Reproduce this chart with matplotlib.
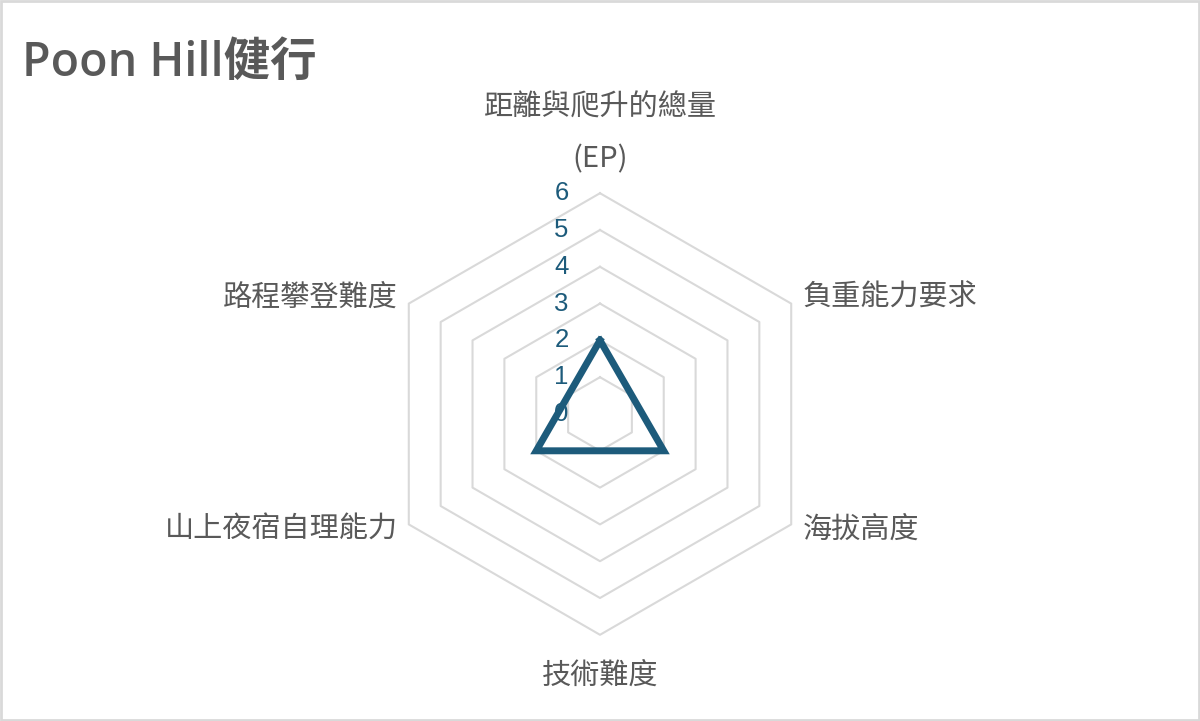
import matplotlib
matplotlib.use("Agg")
import matplotlib.pyplot as plt
from matplotlib.patches import Rectangle
import numpy as np

plt.rcParams['font.family'] = ['Noto Sans CJK TC', 'DejaVu Sans']

title = "Poon Hill健行"
categories = ["距離與爬升的總量\n(EP)", "負重能力要求", "海拔高度",
              "技術難度", "山上夜宿自理能力", "路程攀登難度"]
values = [2, 1, 2, 1, 2, 1]
ticks = [0, 1, 2, 3, 4, 5, 6]

grid_color = "#D9D9D9"
line_color = "#1D5B7B"
text_color = "#595959"

fig = plt.figure(figsize=(12, 7.21), dpi=100)
ax = fig.add_axes([0, 0, 1, 1])
unit = 36.8  # pixels per value step
ax.set_xlim(-600 / unit, 600 / unit)
ax.set_ylim(-307 / unit, 414 / unit)
ax.set_aspect("equal")
ax.axis("off")

n = len(categories)
angles = np.pi / 2 - 2 * np.pi * np.arange(n) / n
closed = np.append(angles, angles[0])

# hexagon grid
for t in ticks[1:]:
    ax.plot(t * np.cos(closed), t * np.sin(closed), color=grid_color,
            lw=1.5, zorder=1)

# data polygon
v = np.array(values + values[:1], dtype=float)
ax.plot(v * np.cos(closed), v * np.sin(closed), color=line_color, lw=5,
        solid_joinstyle="miter", zorder=3)

# radial tick labels
for t in ticks:
    ax.text(-0.85, t, str(t), ha="right", va="center", fontsize=18.5,
            color=line_color, family="Liberation Sans", zorder=2)

# category labels
rmax = ticks[-1]
for ang, cat in zip(angles, categories):
    c, s = np.cos(ang), np.sin(ang)
    if s > 0.9:
        ax.text(0, rmax + 0.5, cat, ha="center", va="bottom", fontsize=21,
                color=text_color, linespacing=1.95)
    elif s < -0.9:
        ax.text(0, -rmax - 0.7, cat, ha="center", va="top", fontsize=21,
                color=text_color)
    else:
        ha = "left" if c > 0 else "right"
        x = rmax * c + (0.3 if c > 0 else -0.3)
        y = rmax * s + (0.15 if s > 0 else -0.15)
        ax.text(x, y, cat, ha=ha, va="center", fontsize=21,
                color=text_color)

fig.text(22 / 1200, 1 - 63 / 721, title, ha="left", va="center",
         fontsize=33.5, color=text_color, weight="semibold",
         family=["Open Sans", "Noto Sans CJK TC"])

fig.patches.append(Rectangle((0.001, 0.001), 0.998, 0.997,
                             transform=fig.transFigure, fill=False,
                             edgecolor=grid_color, lw=2))

fig.savefig("out.png", dpi=100)
